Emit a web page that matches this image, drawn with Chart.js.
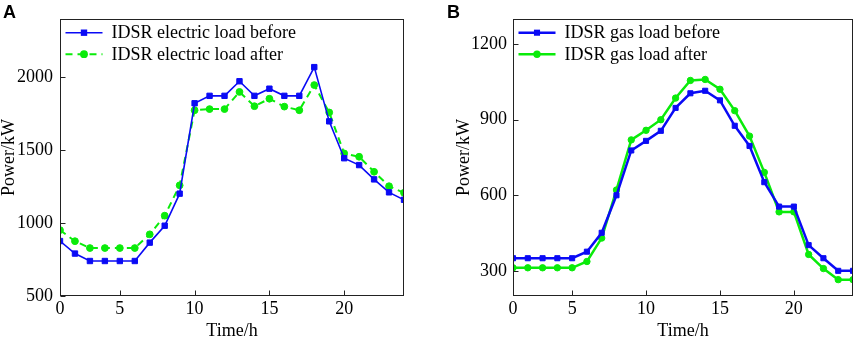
<!DOCTYPE html>
<html><head><meta charset="utf-8">
<script src="https://cdn.jsdelivr.net/npm/chart.js@4.4.0/dist/chart.umd.min.js"></script>
<style>
html,body{margin:0;padding:0;background:#fff;overflow:hidden}
#wrap{position:relative;width:858px;height:340px;background:#fff}
canvas{position:absolute;top:0}
</style></head><body>
<div id="wrap">
<canvas id="cA" width="429" height="340" style="left:0"></canvas>
<canvas id="cB" width="429" height="340" style="left:429px"></canvas>
</div>
<script>
// ---- data ----
const hours = [1,2,3,4,5,6,7,8,9,10,11,12,13,14,15,16,17,18,19,20,21,22,23,24];
const xTickValues = [1,5,10,15,20];
const xTickLabels = ['0','5','10','15','20'];
const elecBefore = [877,791,740,740,740,740,866,982,1202,1822,1873,1873,1973,1873,1922,1873,1873,2070,1698,1445,1398,1300,1211,1160];
const elecAfter  = [952,876,829,829,829,829,923,1051,1259,1774,1782,1782,1900,1802,1853,1799,1774,1947,1759,1478,1455,1352,1253,1208];
const gasBefore  = [350,350,350,350,350,376,451,600,778,816,856,947,1005,1015,977,876,796,652,555,555,402,350,300,300];
const gasAfter   = [312,312,312,312,312,337,430,621,820,858,900,986,1056,1060,1021,936,835,691,534,534,365,309,265,265];
const elecTicks = [500,1000,1500,2000];
const gasTicks = [300,600,900,1200];
const labelsA = ['IDSR electric load before','IDSR electric load after'];
const labelsB = ['IDSR gas load before','IDSR gas load after'];
const xTitle = 'Time/h';
const yTitle = 'Power/kW';

const SERIF = '"Liberation Serif", "Times New Roman", serif';
const BLUE = 'rgb(10,10,245)';
const GREEN = 'rgb(10,235,10)';

function pts(vals){ return hours.map((h,i)=>({x:h,y:vals[i]})); }

const framePlugin = {
  id:'frame',
  afterDraw(chart, args, opts){
    const ctx = chart.ctx, a = chart.chartArea;
    const xs = chart.scales.x, ys = chart.scales.y;
    ctx.save();
    ctx.strokeStyle = '#222';
    ctx.lineWidth = 1;
    const L = Math.round(a.left)+0.5, R = Math.round(a.right)-0.5, T = Math.round(a.top)+0.5, B = Math.round(a.bottom)-0.5;
    ctx.strokeRect(L, T, R-L, B-T);
    ctx.beginPath();
    xs.ticks.forEach(t=>{ const p = Math.round(xs.getPixelForValue(t.value))+0.5; ctx.moveTo(p,B); ctx.lineTo(p,B-5); });
    ys.ticks.forEach(t=>{ const p = Math.round(ys.getPixelForValue(t.value))+0.5; ctx.moveTo(L,p); ctx.lineTo(L+5,p); });
    ctx.stroke();
    // legend
    ctx.font = '18px ' + SERIF;
    ctx.textBaseline = 'middle';
    ctx.textAlign = 'left';
    chart.data.datasets.forEach((ds,i)=>{
      const y = a.top + 13.7 + i*21.5;
      const x0 = a.left + 5.5;
      ctx.save();
      ctx.strokeStyle = ds.borderColor;
      ctx.lineWidth = ds.borderWidth;
      ctx.setLineDash(ds.borderDash || []);
      ctx.beginPath(); ctx.moveTo(x0,y); ctx.lineTo(x0+37,y); ctx.stroke();
      ctx.setLineDash([]);
      ctx.fillStyle = ds.pointBackgroundColor;
      const cx = x0+18.5;
      if (ds.pointStyle === 'rect'){
        const s = ds.pointRadius*Math.SQRT1_2 + 0.5;
        ctx.fillRect(cx-s, y-s, 2*s, 2*s);
      } else {
        ctx.beginPath(); ctx.arc(cx, y, ds.pointRadius+0.5, 0, Math.PI*2); ctx.fill();
      }
      ctx.fillStyle = '#000';
      ctx.fillText(ds.label, a.left + 51.5, y+1);
      ctx.restore();
    });
    // panel letter
    ctx.font = 'bold 18px "Liberation Sans", Arial, sans-serif';
    ctx.textBaseline = 'alphabetic';
    ctx.fillStyle = '#000';
    ctx.fillText(opts.letter, opts.letterX, 18);
    ctx.restore();
  }
};

function makeChart(id, cfg){
  return new Chart(document.getElementById(id), {
    type:'line',
    data:{ datasets:[
      { label:cfg.labels[0], data:pts(cfg.before), borderColor:BLUE, backgroundColor:BLUE,
        pointBackgroundColor:BLUE, pointBorderColor:BLUE, borderWidth:cfg.bw1, pointStyle:'rect',
        pointRadius:cfg.sq, pointBorderWidth:1, clip:0, tension:0 },
      { label:cfg.labels[1], data:pts(cfg.after), borderColor:GREEN, backgroundColor:GREEN,
        pointBackgroundColor:GREEN, pointBorderColor:GREEN, borderWidth:cfg.bw2, borderDash:cfg.dash,
        pointStyle:'circle', pointRadius:cfg.cr, pointBorderWidth:1, clip:0, tension:0 }
    ]},
    options:{
      responsive:false, animation:false, devicePixelRatio:1,
      layout:{ padding:{ top:19, left:0, right:cfg.padRight, bottom:0 } },
      plugins:{ legend:{display:false}, tooltip:{enabled:false},
        frame:{ letter:cfg.letter, letterX:cfg.letterX } },
      scales:{
        x:{ type:'linear', min:1, max:24,
          grid:{display:false, drawTicks:false}, border:{display:false},
          afterBuildTicks:s=>{ s.ticks = xTickValues.map(v=>({value:v})); },
          afterFit:s=>{ s.height = 44; },
          ticks:{ autoSkip:false, maxRotation:0, color:'#000', padding:2,
            font:{family:SERIF, size:18}, callback:(v,i)=>xTickLabels[i] },
          title:{ display:true, text:xTitle, color:'#000', padding:{top:0,bottom:0},
            font:{family:SERIF, size:18, lineHeight:1} }
        },
        y:{ min:cfg.ymin, max:cfg.ymax,
          grid:{display:false, drawTicks:false}, border:{display:false},
          afterBuildTicks:s=>{ s.ticks = cfg.yticks.map(v=>({value:v})); },
          afterFit:s=>{ s.width = cfg.yw; },
          ticks:{ color:'#000', padding:cfg.ypad, font:{family:SERIF, size:18}, callback:v=>String(v) },
          title:{ display:true, text:yTitle, color:'#000', padding:{top:cfg.ytitlePad,bottom:0},
            font:{family:SERIF, size:18, lineHeight:1} }
        }
      }
    },
    plugins:[framePlugin]
  });
}

makeChart('cA', { labels:labelsA, before:elecBefore, after:elecAfter, ymin:500, ymax:2400, yticks:elecTicks,
  yw:60, ypad:7, ytitlePad:0, padRight:25, bw1:1.6, bw2:2, dash:[7,5], sq:3.8, cr:3.4, letter:'A', letterX:3 });
makeChart('cB', { labels:labelsB, before:gasBefore, after:gasAfter, ymin:200, ymax:1300, yticks:gasTicks,
  yw:84, ypad:6, ytitlePad:26, padRight:2, bw1:2.5, bw2:2.5, dash:[], sq:3.6, cr:3.2, letter:'B', letterX:18 });
</script>
</body></html>
